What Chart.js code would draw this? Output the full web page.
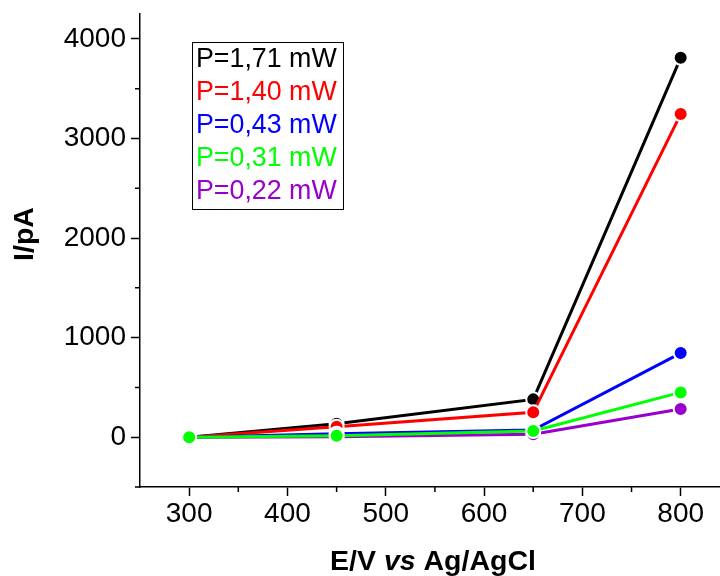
<!DOCTYPE html>
<html>
<head>
<meta charset="utf-8">
<script src="https://cdn.jsdelivr.net/npm/chart.js@4.4.1/dist/chart.umd.min.js"></script>
<style>
  html, body { margin: 0; padding: 0; background: #fff; }
  #wrap { width: 720px; height: 576px; }
</style>
</head>
<body>
<div id="wrap"><canvas id="grafico" width="720" height="576"></canvas></div>
<script>
// datos
const potenciales = [300, 450, 650, 800];
const nombres = ['P=1,71 mW', 'P=1,40 mW', 'P=0,43 mW', 'P=0,31 mW', 'P=0,22 mW'];
const i171 = [0, 135, 380, 3810];
const i140 = [0, 105, 250, 3245];
const i043 = [0, 35, 72, 845];
const i031 = [0, 15, 62, 450];
const i022 = [0, 4, 30, 283];
const xTicks = [300, 400, 500, 600, 700, 800];
const xMinor = [350, 450, 550, 650, 750];
const yTicks = [0, 1000, 2000, 3000, 4000];
const yMinor = [-500, 500, 1500, 2500, 3500];

const colores = ['#000000', '#ff0000', '#0000ff', '#00ff00', '#9900cc'];
const orden = [5, 4, 3, 1, 2];
const series = [i171, i140, i043, i031, i022];
const fuente = '"Liberation Sans", Arial, sans-serif';

const datasets = series.map((s, k) => ({
    label: nombres[k],
    data: potenciales.map((x, j) => ({ x: x, y: s[j] })),
    borderColor: colores[k],
    backgroundColor: colores[k],
    pointBackgroundColor: colores[k],
    pointBorderColor: '#ffffff',
    pointBorderWidth: 2,
    pointRadius: 7,
    borderWidth: 3,
    tension: 0,
    order: orden[k]
}));

function sinPadding(scale) {
    scale.paddingLeft = 0;
    scale.paddingRight = 0;
    scale.paddingTop = 0;
    scale.paddingBottom = 0;
}

const decor = {
    id: 'decor',
    afterDraw(chart) {
        const ctx = chart.ctx;
        const xs = chart.scales.x, ys = chart.scales.y;
        const area = chart.chartArea;
        ctx.save();
        // ticks menores
        ctx.strokeStyle = '#000';
        ctx.lineWidth = 1.5;
        ctx.beginPath();
        xMinor.forEach(v => {
            const px = xs.getPixelForValue(v);
            ctx.moveTo(px, area.bottom);
            ctx.lineTo(px, area.bottom + 5);
        });
        yMinor.forEach(v => {
            const py = ys.getPixelForValue(v);
            ctx.moveTo(area.left, py);
            ctx.lineTo(area.left - 5, py);
        });
        ctx.stroke();

        // titulo eje x con "vs" en cursiva
        ctx.fillStyle = '#000';
        ctx.textBaseline = 'alphabetic';
        const partes = [['E/V ', 'bold'], ['vs', 'italic bold'], [' Ag/AgCl', 'bold']];
        let total = 0;
        partes.forEach(p => { ctx.font = p[1] + ' 28.5px ' + fuente; total += ctx.measureText(p[0]).width; });
        let xx = 433 - total / 2;
        partes.forEach(p => {
            ctx.font = p[1] + ' 28.5px ' + fuente;
            ctx.textAlign = 'left';
            ctx.fillText(p[0], xx, 570);
            xx += ctx.measureText(p[0]).width;
        });

        // titulo eje y
        ctx.save();
        ctx.translate(33, 234);
        ctx.rotate(-Math.PI / 2);
        ctx.font = 'bold 28.5px ' + fuente;
        ctx.textAlign = 'center';
        ctx.fillText('I/pA', 0, 0);
        ctx.restore();

        // leyenda
        ctx.lineWidth = 1;
        ctx.strokeStyle = '#000';
        ctx.strokeRect(192.5, 42.5, 151, 167);
        ctx.font = '26.8px ' + fuente;
        ctx.textAlign = 'left';
        nombres.forEach((n, k) => {
            ctx.fillStyle = colores[k];
            ctx.fillText(n, 196, 67 + k * 33);
        });
        ctx.restore();
    }
};

const ctx = document.getElementById('grafico').getContext('2d');
const chart = new Chart(ctx, {
    type: 'line',
    data: { datasets: datasets },
    options: {
        responsive: false,
        animation: false,
        layout: { autoPadding: false, padding: { top: 14, right: 0, left: 0, bottom: 0 } },
        plugins: {
            legend: { display: false },
            tooltip: { enabled: false }
        },
        scales: {
            x: {
                type: 'linear',
                min: 250,
                max: 840,
                afterBuildTicks: (scale) => { scale.ticks = xTicks.map(v => ({ value: v })); },
                afterFit: (scale) => { scale.height = 89; sinPadding(scale); },
                border: { color: '#000', width: 1.5 },
                grid: { drawOnChartArea: false, tickLength: 9, tickColor: '#000', tickWidth: 1.5 },
                ticks: { color: '#000', font: { family: fuente, size: 28 }, padding: 1, maxRotation: 0, autoSkip: false,
                    callback: (v) => String(v) }
            },
            y: {
                min: -500,
                max: 4250,
                afterBuildTicks: (scale) => { scale.ticks = yTicks.map(v => ({ value: v })); },
                afterFit: (scale) => { scale.width = 140; sinPadding(scale); },
                border: { color: '#000', width: 1.5 },
                grid: { drawOnChartArea: false, tickLength: 9, tickColor: '#000', tickWidth: 1.5 },
                ticks: { color: '#000', font: { family: fuente, size: 28 }, padding: 5,
                    callback: (v) => String(v) }
            }
        }
    },
    plugins: [decor]
});
</script>
</body>
</html>
